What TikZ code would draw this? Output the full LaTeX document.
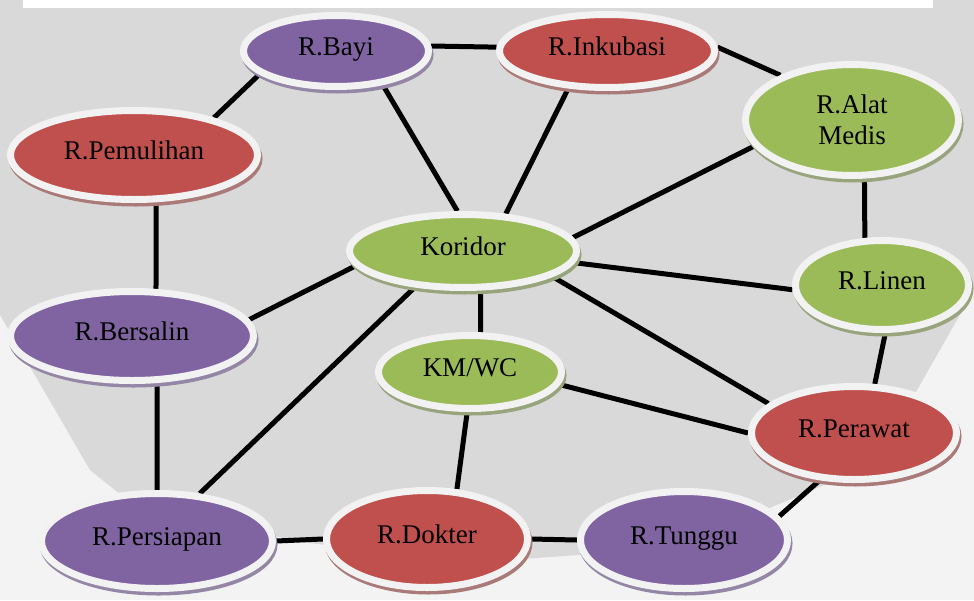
\documentclass[tikz,border=0pt]{standalone}
\usepackage{fontspec}
\setmainfont{Liberation Serif}
\usetikzlibrary{shapes.geometric,shadows}
\definecolor{purpc}{HTML}{8064A2}
\definecolor{redc}{HTML}{C0504D}
\definecolor{greenc}{HTML}{9BBB59}
\definecolor{purps}{HTML}{9487A6}
\definecolor{reds}{HTML}{A97A78}
\definecolor{greens}{HTML}{98A47C}
\definecolor{ringc}{HTML}{F2F2F2}
\definecolor{bgray}{HTML}{D9D9D9}
\definecolor{bwhite}{HTML}{F3F3F3}
\pgfdeclarelayer{bg}
\pgfdeclarelayer{edges}
\pgfsetlayers{bg,edges,main}
\tikzset{
  room/.style={ellipse, draw=ringc, line width=7pt, inner sep=0pt, text=black,
    font=\fontsize{27}{31}\selectfont, text height=19pt, text depth=11pt},
  purp/.style={room, fill=purpc, drop shadow={shadow xshift=1.5pt, shadow yshift=-3.5pt, fill=purps, draw=purps, line width=7pt, opacity=1}},
  redr/.style={room, fill=redc, drop shadow={shadow xshift=1.5pt, shadow yshift=-3.5pt, fill=reds, draw=reds, line width=7pt, opacity=1}},
  grnr/.style={room, fill=greenc, drop shadow={shadow xshift=1.5pt, shadow yshift=-3.5pt, fill=greens, draw=greens, line width=7pt, opacity=1}},
  link/.style={line width=5pt, black}
}
\begin{document}
\begin{tikzpicture}[x=1pt,y=-1pt]
\useasboundingbox (0,0) rectangle (974,600);
\begin{pgfonlayer}{bg}
  \fill[bwhite] (0,0) rectangle (974,600);
  \fill[bgray] (0,0) -- (974,0) -- (974,290) -- (900,420) -- (860,470) -- (760,512)
     -- (620,552) -- (480,562) -- (300,542) -- (130,502) -- (90,470) -- (0,315) -- cycle;
  \fill[white] (23,0) rectangle (933,8);
\end{pgfonlayer}

\node[purp, minimum width=185pt, minimum height=71pt] (bayi) at (336,51) {R.Bayi};
\node[redr, minimum width=215pt, minimum height=73pt] (inku) at (607,51) {R.Inkubasi};
\node[grnr, minimum width=213pt, minimum height=111pt, align=center, text height=, text depth=] (alat) at (852,120) {R.Alat\\Medis};
\node[redr, minimum width=247pt, minimum height=89pt] (pemu) at (134,155) {R.Pemulihan};
\node[grnr, minimum width=227pt, minimum height=73pt] (kori) at (463,251) {Koridor};
\node[grnr, minimum width=173pt, minimum height=89pt] (linen) at (882,285) {R.Linen};
\node[purp, minimum width=243pt, minimum height=89pt] (bers) at (132,336) {R.Bersalin};
\node[grnr, minimum width=183pt, minimum height=73pt] (kmwc) at (470,372) {KM/WC};
\node[redr, minimum width=205pt, minimum height=93pt] (pera) at (854,433) {R.Perawat};
\node[purp, minimum width=231pt, minimum height=95pt] (pers) at (157,541) {R.Persiapan};
\node[redr, minimum width=201pt, minimum height=97pt] (dokt) at (427,539) {R.Dokter};
\node[purp, minimum width=207pt, minimum height=97pt] (tung) at (684,540) {R.Tunggu};

\begin{pgfonlayer}{edges}
  \draw[link] (bayi.3) -- (inku.178);
  \draw[link] (bayi.197) -- (pemu.25);
  \draw[link] (bayi.324) -- (kori.98);
  \draw[link] (inku.224) -- (kori.41);
  \draw[link] (inku.2) -- (alat.148);
  \draw[link] (alat.195) -- (kori.7);
  \draw[link] (alat.282) -- (linen.110);
  \draw[link] (kori.354) -- (linen.183);
  \draw[link] (kori.188) -- (bers.8);
  \draw[link] (kori.294) -- (kmwc.75);
  \draw[link] (kori.344) -- (pera.161);
  \draw[link] (kori.217) -- (pers.48);
  \draw[link] (pemu.295) -- (bers.63);
  \draw[link] (bers.298) -- (pers.90);
  \draw[link] (kmwc.352) -- (pera.180);
  \draw[link] (kmwc.266) -- (dokt.59);
  \draw[link] (linen.274) -- (pera.67);
  \draw[link] (pera.234) -- (tung.14);
  \draw[link] (pers.0) -- (dokt.180);
  \draw[link] (dokt.0) -- (tung.180);
\end{pgfonlayer}
\end{tikzpicture}
\end{document}
